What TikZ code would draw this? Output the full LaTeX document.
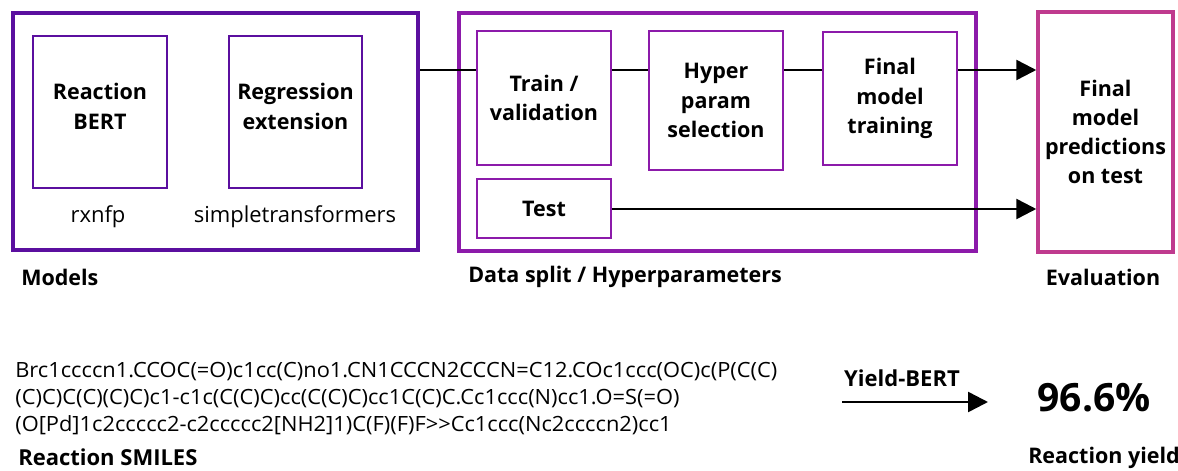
\documentclass[tikz,border=0pt]{standalone}
\usepackage{fontspec}
\setmainfont{Open Sans}
\usetikzlibrary{positioning,arrows.meta}

\definecolor{modelpurple}{HTML}{5B0F9F}
\definecolor{splitpurple}{HTML}{8C1AAA}
\definecolor{evalpink}{HTML}{BF3A8E}

\begin{document}
\begin{tikzpicture}[x=1pt, y=-1pt, line width=2.5pt,
    outerbox/.style={draw, line width=4pt, inner sep=0pt},
    innerbox/.style={draw, line width=2.5pt, inner sep=0pt, align=center, text=black,
        font=\fontsize{21.5}{29.5}\selectfont\bfseries},
    caption/.style={font=\fontsize{21.5}{24}\selectfont\bfseries, inner sep=0pt},
    plain/.style={font=\fontsize{22}{26}\selectfont, inner sep=0pt},
    bigtip/.style={-{Triangle[length=20pt, width=20pt]}}]

\useasboundingbox (0,0) rectangle (1178,471);

% Models
\node[outerbox, draw=modelpurple, minimum width=405pt, minimum height=237pt] (models) at (215.5,131.5) {};
\node[innerbox, draw=modelpurple, minimum width=134pt, minimum height=152pt] (rbert) at (100,112) {Reaction\\BERT\\[-18pt]};
\node[innerbox, draw=modelpurple, minimum width=133pt, minimum height=152pt] (regr) at (295.5,112) {Regression\\extension\\[-18pt]};
\node[plain] (rxnfp) at (98,217) {rxnfp};
\node[plain] (simpletr) at (295,217) {simpletransformers};
\node[caption, anchor=west] (modelslabel) at (20,277) {Models};

% Data split / Hyperparameters
\node[outerbox, draw=splitpurple, minimum width=517pt, minimum height=238pt] (split) at (717.5,132) {};
\node[innerbox, draw=splitpurple, minimum width=134pt, minimum height=134pt] (trainval) at (544,98) {Train /\\validation};
\node[innerbox, draw=splitpurple, minimum width=134pt, minimum height=139pt] (hyper) at (716,100.5) {Hyper\\param\\selection};
\node[innerbox, draw=splitpurple, minimum width=134pt, minimum height=133pt] (final) at (890,98.5) {Final\\model\\training};
\node[innerbox, draw=splitpurple, minimum width=134pt, minimum height=59pt] (test) at (544,208.5) {Test};
\node[caption, anchor=west] (splitlabel) at (467,277) {Data split / Hyperparameters};

% Evaluation
\node[outerbox, draw=evalpink, line width=3.5pt, minimum width=135pt, minimum height=240pt,
    align=center, font=\fontsize{21.5}{29}\selectfont\bfseries] (eval) at (1105.5,132) {Final\\model\\predictions\\on test};
\node[caption] (evallabel) at (1103,277) {Evaluation};

% Connections
\coordinate (flowY) at (0,70);
\coordinate (testY) at (0,209);
\foreach \a/\b in {models/trainval, trainval/hyper, hyper/final} {
    \draw (\a.east |- flowY) -- (\b.west |- flowY);
}
\draw[bigtip] (final.east |- flowY) -- (eval.west |- flowY);
\draw[bigtip] (test.east |- testY) -- (eval.west |- testY);

% Example reaction
\node[anchor=west, align=left, inner sep=0pt, font=\fontsize{21}{27}\selectfont,
    xscale=1.04, transform shape] (smiles) at (14,399) {Brc1ccccn1.CCOC(=O)c1cc(C)no1.CN1CCCN2CCCN=C12.COc1ccc(OC)c(P(C(C)\\(C)C)C(C)(C)C)c1-c1c(C(C)C)cc(C(C)C)cc1C(C)C.Cc1ccc(N)cc1.O=S(=O)\\(O[Pd]1c2ccccc2-c2ccccc2[NH2]1)C(F)(F)F>{}>Cc1ccc(Nc2ccccn2)cc1};
\node[caption, anchor=west, font=\fontsize{22}{24}\selectfont\bfseries] (smileslabel) at (17,457) {Reaction SMILES};

\node[caption, font=\fontsize{22}{24}\selectfont\bfseries] (yieldbert) at (902,378) {Yield-BERT};
\coordinate (arrowstart) at (842,402);
\coordinate (arrowend) at (988,402);
\draw[bigtip] (arrowstart) -- (arrowend);
\node[font=\fontsize{39}{41}\selectfont\bfseries, inner sep=0pt] (yieldval) at (1094,398) {96.6\%};
\node[caption, anchor=west] (yieldlabel) at (1027,458) {Reaction yield};

\end{tikzpicture}
\end{document}
